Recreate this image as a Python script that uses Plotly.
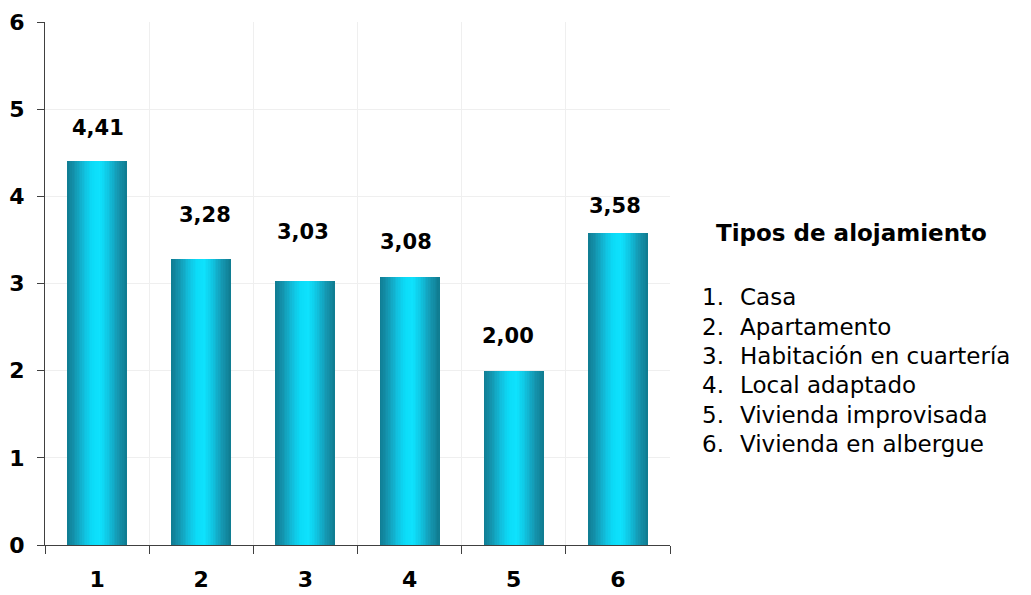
import plotly.graph_objects as go
from plotly.colors import sample_colorscale

# ---- data ----
categories = ["1", "2", "3", "4", "5", "6"]
values = [4.41, 3.28, 3.03, 3.08, 2.00, 3.58]
value_labels = ["4,41", "3,28", "3,03", "3,08", "2,00", "3,58"]
legend_title = "Tipos de alojamiento"
legend_numbers = ["1.", "2.", "3.", "4.", "5.", "6."]
legend_names = ["Casa", "Apartamento", "Habitación en cuartería",
                "Local adaptado", "Vivienda improvisada", "Vivienda en albergue"]

# ---- style ----
FONT = "DejaVu Sans, Liberation Sans, Arial, sans-serif"
label_shift_px = [33, 44, 49, 35, 35, 27]
label_xshift_px = [1, 4, -2, -4, -6, -3]
bar_width = 0.576
n_slices = 36
gradient = [[0.0, "#107b91"], [0.12, "#1493ad"], [0.3, "#11c2e0"],
            [0.42, "#0bdcf8"], [0.55, "#0ee2fd"], [0.68, "#10c6e3"],
            [0.85, "#1596b0"], [1.0, "#0f7a8f"]]

PL, PR, PT, PB = 45, 670.5, 22, 545  # plot area in pixels

fig = go.Figure()
slice_w = bar_width / n_slices
colors = sample_colorscale(gradient, [(i + 0.5) / n_slices for i in range(n_slices)])
for i, c in enumerate(colors):
    fig.add_trace(go.Bar(
        x=categories, y=values,
        width=slice_w * (1.6 if i < n_slices - 1 else 1.0),
        offset=-bar_width / 2 + i * slice_w,
        marker=dict(color=c, line=dict(width=0)),
        showlegend=False, hoverinfo="skip",
    ))

for idx, (v, lab, s, xs) in enumerate(zip(values, value_labels, label_shift_px, label_xshift_px)):
    fig.add_annotation(x=idx, y=v, text=f"<b>{lab}</b>", showarrow=False,
                       yshift=s, xshift=xs, yanchor="middle",
                       font=dict(family=FONT, size=21, color="#000000"))

def px_x(x):
    return (x - PL) / (PR - PL)

def px_y(y):
    return (PB - y) / (PB - PT)

fig.add_annotation(xref="paper", yref="paper", x=px_x(716), y=px_y(233),
                   text=f"<b>{legend_title}</b>", showarrow=False, xanchor="left",
                   yanchor="middle", borderpad=0,
                   font=dict(family=FONT, size=23, color="#000000"))
row_y = [297, 327, 356, 385, 415, 444]
for num, name, yy in zip(legend_numbers, legend_names, row_y):
    fig.add_annotation(xref="paper", yref="paper", x=px_x(702), y=px_y(yy),
                       text=num, showarrow=False, xanchor="left", yanchor="middle",
                       borderpad=0, font=dict(family=FONT, size=23, color="#000000"))
    fig.add_annotation(xref="paper", yref="paper", x=px_x(740), y=px_y(yy),
                       text=name, showarrow=False, xanchor="left", yanchor="middle",
                       borderpad=0, font=dict(family=FONT, size=23, color="#000000"))

fig.update_layout(
    width=1031, height=595,
    margin=dict(l=PL, r=1031 - PR, t=PT, b=595 - PB),
    paper_bgcolor="white", plot_bgcolor="white",
    barmode="overlay", bargap=0,
    font=dict(family=FONT, color="#000000"),
    xaxis=dict(type="category", tickson="boundaries", ticks="outside", ticklen=8,
               tickcolor="#404040", tickwidth=1.3, automargin=False,
               showline=True, linecolor="#404040", linewidth=1.3,
               showgrid=True, gridcolor="#efefef", gridwidth=1,
               tickfont=dict(family=FONT, size=22, color="#000000"),
               ticklabelstandoff=14, range=[-0.5, 5.5],
               tickprefix="<b>", ticksuffix="</b>"),
    yaxis=dict(range=[0, 6], dtick=1, ticks="outside", ticklen=7,
               tickcolor="#404040", tickwidth=1.3, automargin=False,
               showline=True, linecolor="#404040", linewidth=1.3,
               showgrid=True, gridcolor="#efefef", gridwidth=1, zeroline=False,
               tickfont=dict(family=FONT, size=22, color="#000000"),
               tickprefix="<b>", ticksuffix="</b>", ticklabelstandoff=8),
)

fig.write_html("out.html", config={"displayModeBar": False},
               post_script="document.body.style.margin='0';")
